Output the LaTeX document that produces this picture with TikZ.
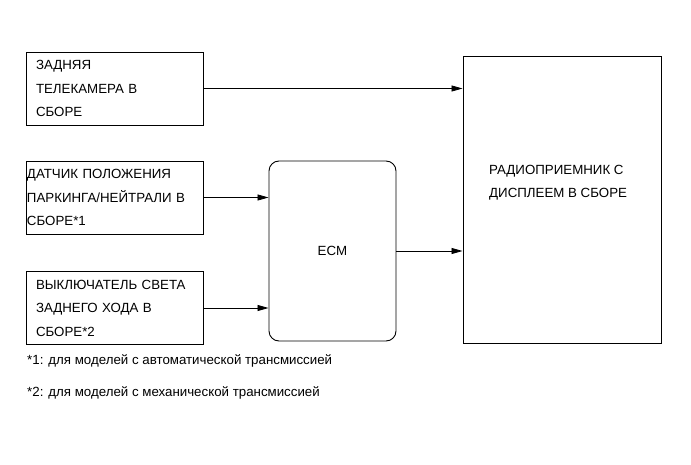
\documentclass[tikz,border=0pt]{standalone}
\usepackage{fontspec}
\setmainfont{Liberation Sans}
\usepackage{tikz}
\usetikzlibrary{arrows.meta,calc}
\tikzset{
  unitbox/.style = {draw, line width=0.9pt, minimum height=73pt,
    text width=#1, align=left, font=\fontsize{13.3}{23.5}\selectfont},
  unitbox/.default={157pt},
  feed/.style = {line width=0.8pt, -{Triangle[length=11pt,width=6pt]}},
  note/.style = {anchor=west, inner sep=0pt, font=\fontsize{13.3}{15}\selectfont}
}
\begin{document}
\begin{tikzpicture}[x=1pt,y=-1pt]
\useasboundingbox (0,0) rectangle (691,465);

 \node[unitbox, inner xsep=10pt] (camera) at (114.5,88.5)
   {ЗАДНЯЯ\\ТЕЛЕКАМЕРА В\\СБОРЕ};
 \node[unitbox=175pt, inner xsep=1pt] (sensor) at (114.5,197.5)
   {ДАТЧИК ПОЛОЖЕНИЯ\\ПАРКИНГА/НЕЙТРАЛИ В\\СБОРЕ*1};
 \node[unitbox, inner xsep=10pt] (lamp) at (114.5,308)
   {ВЫКЛЮЧАТЕЛЬ СВЕТА\\ЗАДНЕГО ХОДА В\\СБОРЕ*2};

 \node[draw, line width=0.9pt, rounded corners=10pt, minimum width=127pt,
   minimum height=180pt, font=\fontsize{13.3}{15}\selectfont] (ecm) at (332.5,251) {ECM};

 \node[draw, line width=0.9pt, minimum width=198pt, minimum height=287pt] (radio) at (562,199.5) {};
 \node[anchor=west, inner sep=0pt, align=left, font=\fontsize{13.3}{23.5}\selectfont] (radiotext) at (489,182.5)
   {РАДИОПРИЕМНИК С\\ДИСПЛЕЕМ В СБОРЕ};

 \draw[feed] (camera.east) -- (camera.east -| radio.west);
 \draw[feed] (sensor.east) -- (sensor.east -| ecm.west);
 \draw[feed] (lamp.east) -- (lamp.east -| ecm.west);
 \draw[feed] (ecm.east) -- (ecm.east -| radio.west);

 \node[note] (note1) at (27,361) {*1: для моделей с автоматической трансмиссией};
 \node[note] (note2) at (27,393) {*2: для моделей с механической трансмиссией};

\end{tikzpicture}
\end{document}
